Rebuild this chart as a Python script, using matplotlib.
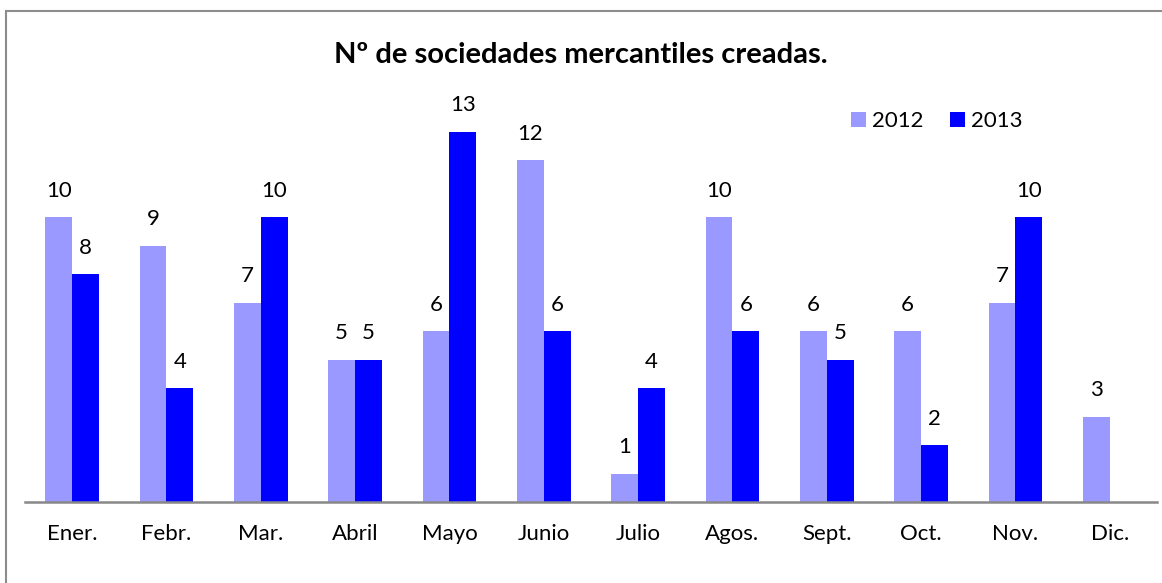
import numpy as np
import matplotlib
matplotlib.use('Agg')
import matplotlib.pyplot as plt
from matplotlib.patches import Rectangle

# Datos
meses = ['Ener.', 'Febr.', 'Mar.', 'Abril', 'Mayo', 'Junio', 'Julio',
         'Agos.', 'Sept.', 'Oct.', 'Nov.', 'Dic.']
valores_2012 = [10, 9, 7, 5, 6, 12, 1, 10, 6, 6, 7, 3]
valores_2013 = [8, 4, 10, 5, 13, 6, 4, 6, 5, 2, 10, np.nan]
titulo = 'Nº de sociedades mercantiles creadas.'

color_2012 = '#9999FF'
color_2013 = '#0000FF'

plt.rcParams['font.family'] = ['Lato', 'DejaVu Sans']

fig = plt.figure(figsize=(11.62, 5.83), dpi=100)
ax = fig.add_axes([25 / 1162, 1 - 502 / 583, 1132 / 1162, (502 - 74.5) / 583])

x = np.arange(len(meses))
w = 0.286

def dibujar_serie(valores, desplazamiento, color, etiqueta):
    vals = np.array(valores, dtype=float)
    ok = ~np.isnan(vals)
    barras = ax.bar(x[ok] + desplazamiento, vals[ok], width=w, color=color,
                    label=etiqueta, zorder=2)
    for xi, v in zip(x[ok], vals[ok]):
        ax.annotate(f'{int(v)}', (xi + desplazamiento, v), xytext=(0, 19),
                    textcoords='offset points', ha='center', va='center',
                    fontsize=16, color='black')
    return barras

dibujar_serie(valores_2012, -w / 2, color_2012, '2012')
dibujar_serie(valores_2013, w / 2, color_2013, '2013')

ax.set_xlim(-0.5, len(meses) - 0.5)
ax.set_ylim(0, 15)
ax.set_xticks(x)
ax.set_xticklabels(meses, fontsize=16)
ax.tick_params(axis='x', length=0, pad=16)
ax.set_yticks([])
for lado in ['left', 'top', 'right']:
    ax.spines[lado].set_visible(False)
ax.spines['bottom'].set_color('#888888')
ax.spines['bottom'].set_linewidth(1.8)

fig.text(581 / 1162, 1 - 55 / 583, titulo, ha='center', va='center',
         fontsize=21, fontweight='bold')

ax.legend(loc='center', bbox_to_anchor=(937 / 1162, 1 - 121 / 583),
          bbox_transform=fig.transFigure, ncol=2, frameon=False,
          fontsize=16, handlelength=0.65, handleheight=0.65,
          handletextpad=0.3, columnspacing=1.2, borderpad=0)

# Marco exterior
fig.patches.append(Rectangle((6 / 1162, -0.1), 1.2, 1 - 11 / 583 + 0.1,
                             transform=fig.transFigure, fill=False,
                             edgecolor='#8c8c8c', linewidth=1.5))

fig.savefig('out.png', dpi=100)
